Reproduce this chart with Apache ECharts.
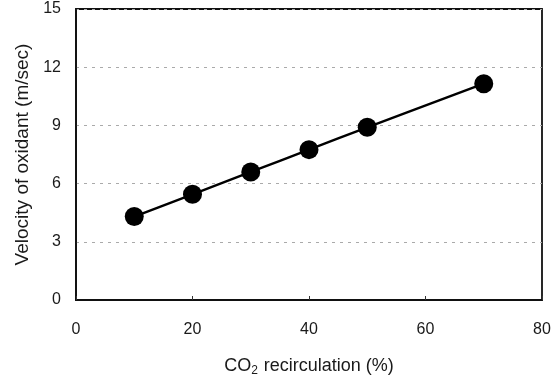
<!DOCTYPE html>
<html>
<head>
<meta charset="utf-8">
<script src="https://cdn.jsdelivr.net/npm/echarts@6/dist/echarts.min.js"></script>
<style>
  html, body { margin: 0; padding: 0; background: #fff; }
  #chart { width: 554px; height: 390px; }
</style>
</head>
<body>
<div id="chart"></div>
<script>
// CO2 recirculation ratio (%) and measured oxidant velocity (m/s)
const recirculation = [10, 20, 30, 40, 50, 70];
const velocity = [4.3, 5.45, 6.6, 7.75, 8.9, 11.15];

// axis ranges and tick steps
const xRange = [0, 80];
const xStep = 20;
const yRange = [0, 15];
const yStep = 3;

const FONT = "'Liberation Sans', Arial, sans-serif";

const chart = echarts.init(document.getElementById('chart'), null, { renderer: 'canvas' });

chart.setOption({
  animation: false,
  backgroundColor: '#fff',
  textStyle: { fontFamily: FONT },
  grid: {
    left: 76, right: 12, top: 9, bottom: 90,
    show: true,
    borderColor: '#111',
    borderWidth: 1.8,
    backgroundColor: 'transparent'
  },
  xAxis: {
    type: 'value',
    min: xRange[0], max: xRange[1], interval: xStep,
    name: '{a|CO}{b|2}{a| recirculation (%)}',
    nameLocation: 'middle',
    nameGap: 56,
    nameTextStyle: {
      rich: {
        a: { fontFamily: FONT, fontSize: 18, color: '#1a1a1a' },
        b: { fontFamily: FONT, fontSize: 12, color: '#1a1a1a', padding: [9, 1, 0, 0] }
      }
    },
    axisLine: { show: true, lineStyle: { color: '#111', width: 1.8 } },
    axisTick: { show: true, inside: true, length: 4, lineStyle: { color: '#333' } },
    axisLabel: { color: '#1a1a1a', fontSize: 16, margin: 22, fontFamily: FONT },
    splitLine: { show: false }
  },
  yAxis: {
    type: 'value',
    min: yRange[0], max: yRange[1], interval: yStep,
    name: 'Velocity of oxidant (m/sec)',
    nameLocation: 'middle',
    nameGap: 42,
    nameTextStyle: { color: '#1a1a1a', fontSize: 19, fontFamily: FONT },
    axisLine: { show: true, lineStyle: { color: '#111', width: 1.8 } },
    axisTick: { show: false },
    axisLabel: { color: '#1a1a1a', fontSize: 16, margin: 15, padding: [5, 0, 0, 0], fontFamily: FONT },
    splitLine: { show: true, lineStyle: { color: '#aaa', type: [3, 5], width: 1 } }
  },
  series: [{
    type: 'line',
    data: recirculation.map((x, i) => [x, velocity[i]]),
    smooth: 0.4,
    symbol: 'circle',
    symbolSize: 19,
    itemStyle: { color: '#000' },
    lineStyle: { color: '#000', width: 2.4 }
  }]
});
</script>
</body>
</html>
